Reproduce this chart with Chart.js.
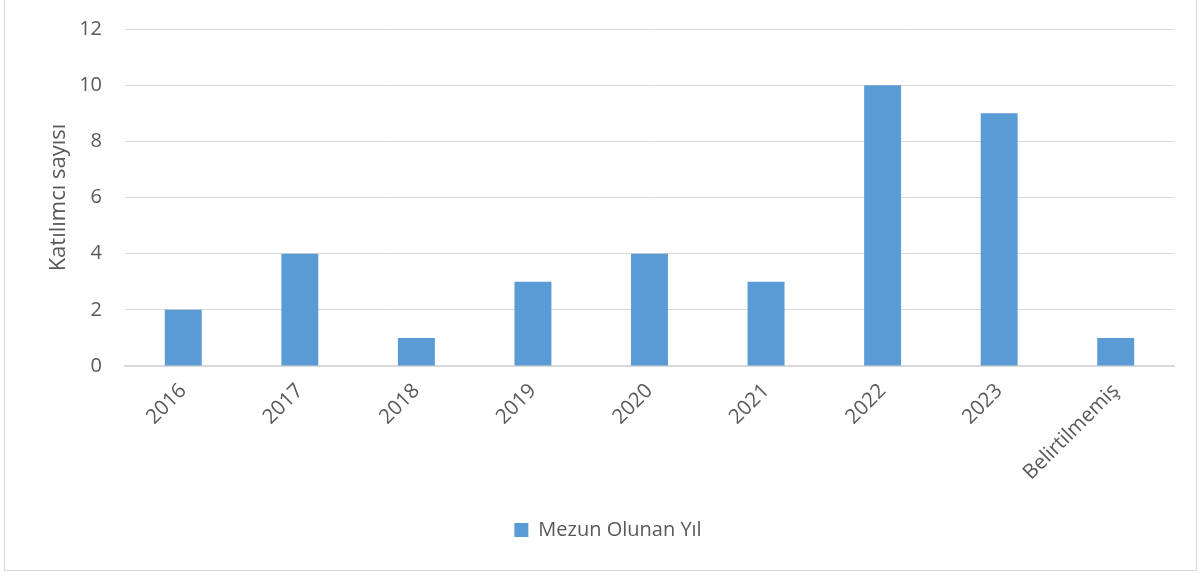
<!DOCTYPE html>
<html>
<head>
<meta charset="utf-8">
<script src="https://cdn.jsdelivr.net/npm/chart.js@4"></script>
<style>
  html, body { margin: 0; padding: 0; background: #fff; }
  #wrap { position: relative; width: 1203px; height: 573px; }
  #frame { position: absolute; left: 4px; top: -1px; width: 1191px; height: 570px; border: 1px solid #d9d9d9; pointer-events: none; }
</style>
</head>
<body>
<div id="wrap">
  <canvas id="chart" width="1203" height="573"></canvas>
  <div id="frame"></div>
</div>
<script>
const categories = ["2016", "2017", "2018", "2019", "2020", "2021", "2022", "2023", "Belirtilmemiş"];
const values = [2, 4, 1, 3, 4, 3, 10, 9, 1];
const seriesName = "Mezun Olunan Yıl";
const yTitle = "Katılımcı sayısı";

const textColor = "#595959";
const barColor = "#5b9bd5";
const gridColor = "#d9d9d9";

new Chart(document.getElementById("chart"), {
  type: "bar",
  data: {
    labels: categories,
    datasets: [
      {
        label: seriesName,
        data: values,
        backgroundColor: barColor,
        categoryPercentage: 1,
        barPercentage: 0.317,
      },
    ],
  },
  options: {
    responsive: false,
    animation: false,
    layout: { padding: { left: 42, right: 29, top: 29, bottom: 23 } },
    plugins: {
      tooltip: { enabled: false },
      legend: {
        position: "bottom",
        labels: {
          color: textColor,
          font: { family: "Open Sans", size: 20 },
          boxWidth: 14,
          boxHeight: 14,
          padding: 10,
        },
      },
    },
    scales: {
      x: {
        grid: { display: false },
        border: { color: gridColor, width: 2 },
        ticks: {
          color: textColor,
          font: { family: "Open Sans", size: 20.5 },
          minRotation: 45,
          maxRotation: 45,
          padding: 5,
        },
        afterFit: (scale) => { scale.height = 144; },
      },
      y: {
        min: 0,
        max: 12,
        ticks: {
          stepSize: 2,
          color: textColor,
          font: { family: "Open Sans", size: 20 },
          padding: 23,
        },
        grid: { color: gridColor, lineWidth: 1, drawTicks: false },
        border: { display: false },
        title: {
          display: true,
          text: yTitle,
          color: textColor,
          font: { family: "Open Sans", size: 22 },
          padding: 4,
        },
        afterFit: (scale) => {
          scale.width = 83;
          // let layout padding decide where the plot starts
          scale.paddingTop = 0;
          scale.paddingBottom = 0;
        },
      },
    },
  },
});
</script>
</body>
</html>
